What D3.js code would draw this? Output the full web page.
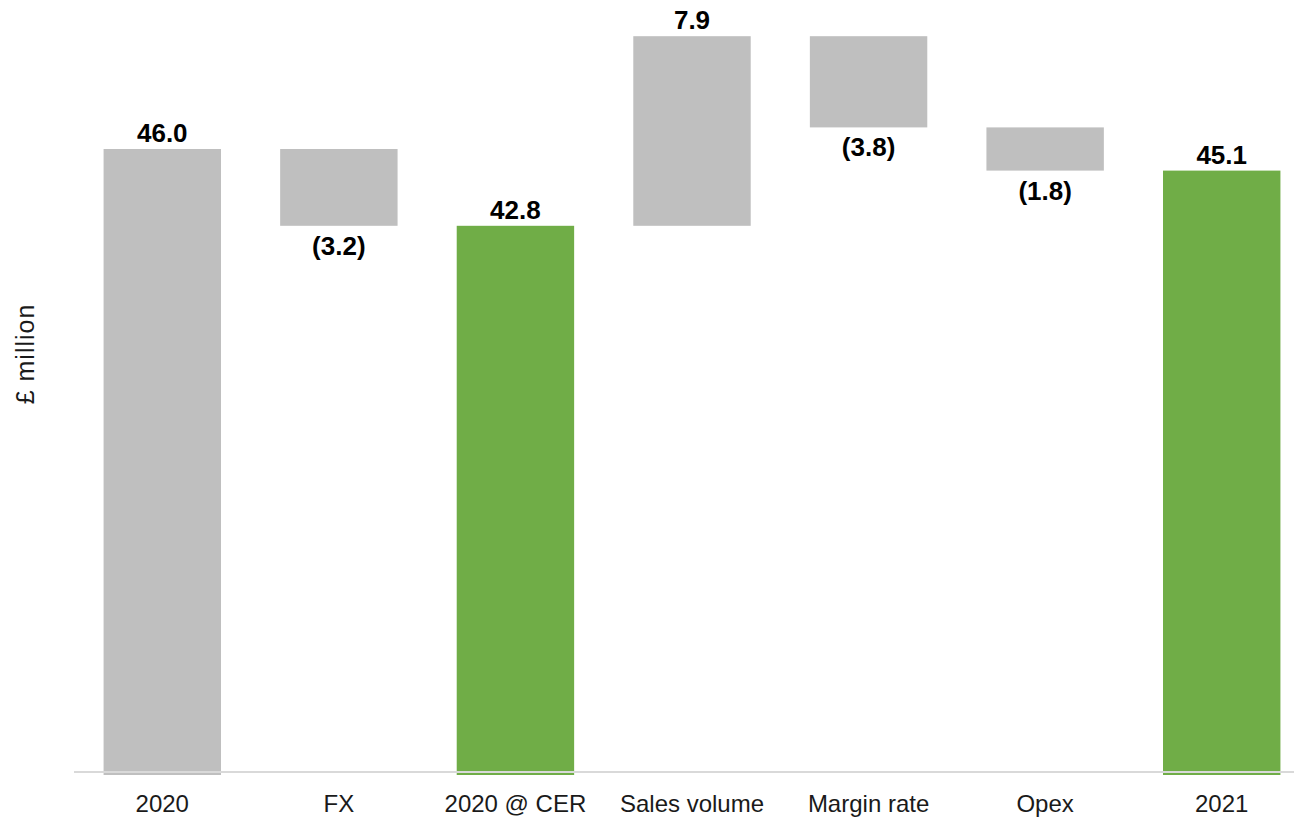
<!DOCTYPE html>
<html>
<head>
<meta charset="utf-8">
<script src="https://cdn.jsdelivr.net/npm/d3@7"></script>
<style>
  html, body { margin: 0; padding: 0; background: #fff; }
  svg { display: block; font-family: "Liberation Sans", Arial, sans-serif; }
</style>
</head>
<body>
<svg id="chart" width="1294" height="818"></svg>
<script>
// Operating profit bridge, £ million
const categories = ["2020", "FX", "2020 @ CER", "Sales volume", "Margin rate", "Opex", "2021"];
const values     = [46.0, -3.2, 42.8, 7.9, -3.8, -1.8, 45.1];
const kinds      = ["start", "delta", "subtotal", "delta", "delta", "delta", "end"];
const yTitle = "£ million";

const W = 1294, H = 818;
const svg = d3.select("#chart");

const x = d3.scaleBand()
  .domain(categories)
  .range([74, 1310])
  .paddingInner(0.335)
  .paddingOuter(0.1675);

const y = d3.scaleLinear()
  .domain([20, 52])
  .range([773, 5]);

// Running totals give each bar its floor and ceiling
let running = 0;
const bars = categories.map((c, i) => {
  const v = values[i];
  let lo, hi;
  if (kinds[i] === "delta") {
    const next = running + v;
    lo = Math.min(running, next);
    hi = Math.max(running, next);
    running = next;
  } else {
    running = v;
    lo = y.domain()[0];
    hi = v;
  }
  return { cat: c, value: v, kind: kinds[i], lo, hi };
});

const fill = k => (k === "subtotal" || k === "end") ? "#70ad47" : "#bfbfbf";

svg.append("g")
  .selectAll("rect")
  .data(bars)
  .join("rect")
  .attr("x", d => x(d.cat))
  .attr("width", x.bandwidth())
  .attr("y", d => y(d.hi))
  .attr("height", d => y(d.lo) - y(d.hi) + (d.kind === "delta" ? 0 : 2))
  .attr("fill", d => fill(d.kind));

// Category axis line
svg.append("line")
  .attr("x1", 74).attr("x2", W)
  .attr("y1", 772).attr("y2", 772)
  .attr("stroke", "#d9d9d9")
  .attr("stroke-width", 2);

// Category labels
svg.append("g")
  .selectAll("text")
  .data(categories)
  .join("text")
  .attr("x", d => x(d) + x.bandwidth() / 2)
  .attr("y", 812)
  .attr("text-anchor", "middle")
  .attr("font-size", 24)
  .attr("fill", "#1a1a1a")
  .text(d => d);

// Value labels: positives above the bar, negatives in brackets below
const fmt = d3.format(".1f");
svg.append("g")
  .selectAll("text")
  .data(bars)
  .join("text")
  .attr("x", d => x(d.cat) + x.bandwidth() / 2)
  .attr("y", d => d.value < 0 ? y(d.lo) + 29 : y(d.hi) - 7)
  .attr("text-anchor", "middle")
  .attr("font-size", 26)
  .attr("font-weight", "bold")
  .attr("fill", "#000")
  .text(d => d.value < 0 ? "(" + fmt(-d.value) + ")" : fmt(d.value));

// Axis title
svg.append("text")
  .attr("transform", "translate(34,354) rotate(-90)")
  .attr("text-anchor", "middle")
  .attr("font-size", 25)
  .attr("letter-spacing", 1)
  .attr("fill", "#1a1a1a")
  .text(yTitle);
</script>
</body>
</html>
